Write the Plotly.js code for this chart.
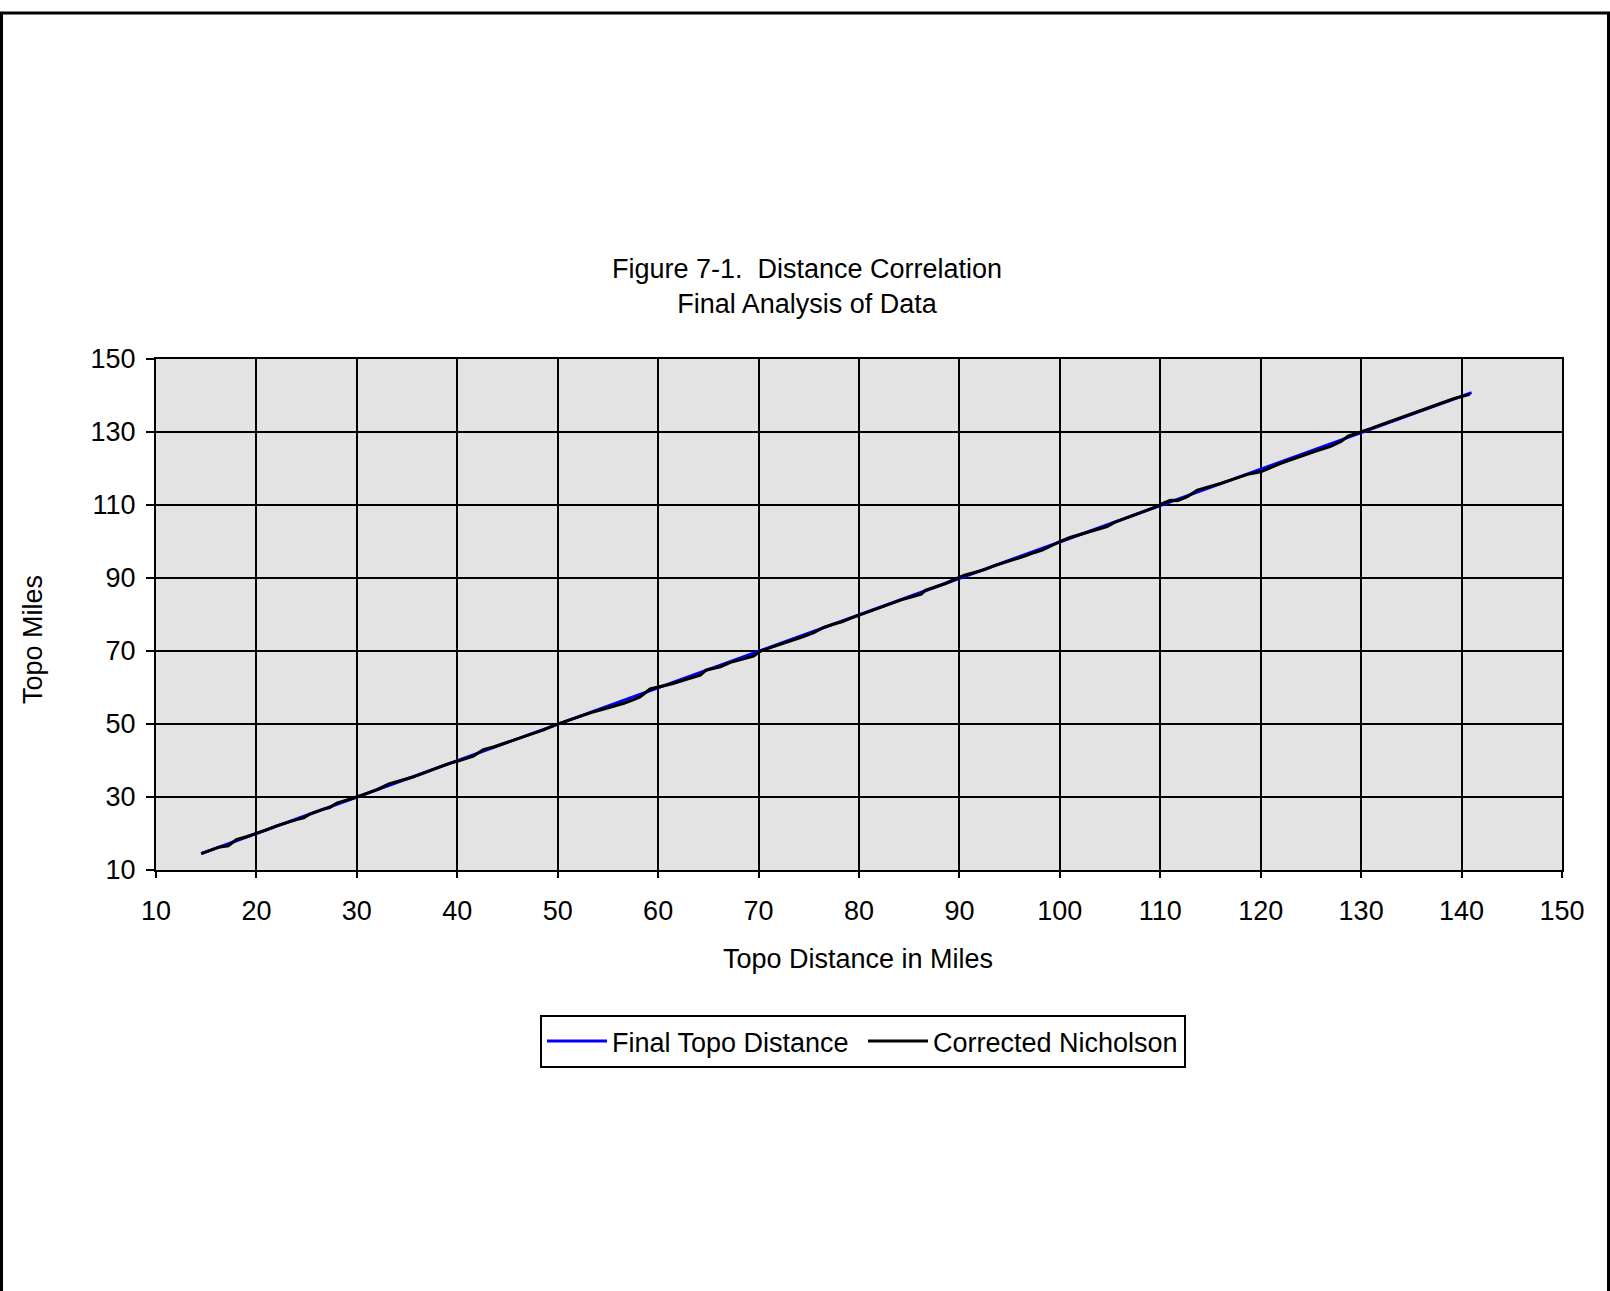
<!DOCTYPE html>
<html>
<head>
<meta charset="utf-8">
<script src="https://cdn.plot.ly/plotly-3.0.1.min.js"></script>
<style>
  html, body { margin: 0; padding: 0; background: #ffffff; }
  #chart { width: 1610px; height: 1291px; }
</style>
</head>
<body>
<div id="chart"></div>
<script>
// ---- data ----
const finalTopoX = [14.5, 30, 50, 70, 90, 110, 130, 141.0];
const finalTopoY = [14.5, 30, 50, 70, 90, 110, 130, 140.8];

const nicholsonX = [
  14.5, 15.5, 16.2, 17.2, 18.0, 19.0, 20.0, 21.0, 22.0, 23.0,
  24.0, 24.7, 25.3, 26.6, 27.3, 28.0, 29.0, 30.0, 31.0, 32.0,
  33.2, 34.6, 35.5, 36.3, 37.2, 38.2, 39.3, 40.0, 41.6, 42.6,
  43.6, 44.6, 45.6, 46.6, 47.6, 48.6, 49.9, 51.2, 52.3, 53.4,
  54.6, 55.6, 56.6, 57.5, 58.2, 59.2, 60.2, 61.5, 62.5, 63.4,
  64.2, 64.8, 66.2, 67.2, 68.4, 69.5, 70.2, 71.2, 72.2, 73.3,
  74.4, 75.5, 76.5, 77.5, 78.3, 79.2, 80.2, 81.2, 82.2, 83.2,
  84.2, 85.2, 86.2, 86.6, 87.6, 88.6, 89.5, 90.5, 91.5, 92.5,
  93.5, 94.5, 95.5, 96.5, 97.5, 98.3, 99.2, 100.0, 101.0, 102.0,
  103.0, 104.0, 104.7, 105.5, 106.5, 107.0, 107.7, 108.7, 109.5, 110.3,
  111.0, 111.7, 112.7, 113.7, 115.0, 116.0, 117.0, 118.0, 118.7, 120.0,
  121.0, 122.0, 123.2, 124.3, 125.5, 126.9, 128.0, 128.7, 130.0, 131.0,
  132.0, 133.0, 134.2, 135.2, 136.2, 137.2, 138.2, 139.2, 140.8
];
const nicholsonY = [
  14.5, 15.6, 16.2, 16.65, 18.3, 19.1, 20.0, 21.0, 22.1, 23.0,
  23.8, 24.3, 25.3, 26.6, 27.1, 28.35, 29.1, 30.0, 31.0, 32.0,
  33.6, 34.6, 35.4, 36.2, 37.2, 38.2, 39.3, 39.8, 41.2, 43.0,
  43.7, 44.6, 45.6, 46.6, 47.5, 48.4, 49.9, 51.2, 52.2, 53.2,
  54.1, 54.8, 55.7, 56.6, 57.4, 59.6, 60.2, 61.1, 62.0, 62.8,
  63.4, 64.8, 65.7, 66.9, 67.7, 68.6, 70.0, 70.9, 71.9, 72.9,
  73.9, 75.0, 76.5, 77.4, 78.0, 79.0, 80.0, 81.1, 82.2, 83.1,
  84.0, 84.8, 85.6, 86.6, 87.5, 88.5, 89.6, 90.8, 91.5, 92.3,
  93.4, 94.2, 95.0, 96.0, 97.0, 97.7, 98.9, 100.0, 101.1, 101.9,
  102.8, 103.6, 104.1, 105.3, 106.3, 106.8, 107.7, 108.6, 109.4, 110.5,
  111.3, 111.2, 112.3, 114.1, 115.0, 115.9, 116.8, 117.7, 118.4, 119.1,
  120.3, 121.4, 122.6, 123.7, 124.8, 126.0, 127.4, 128.9, 130.0, 131.0,
  132.0, 133.0, 134.0, 135.0, 136.0, 137.1, 138.1, 139.1, 140.3
];

const tickVals = [10, 30, 50, 70, 90, 110, 130, 150];
const xTickVals = [10, 20, 30, 40, 50, 60, 70, 80, 90, 100, 110, 120, 130, 140, 150];

const seriesNames = ["Final Topo Distance", "Corrected Nicholson"];
const titleLines = ["Figure 7-1.&nbsp; Distance Correlation", "Final Analysis of Data"];
const xTitle = "Topo Distance in Miles";
const yTitle = "Topo Miles";

// ---- layout geometry (pixels) ----
const W = 1610, H = 1291;
const L = 156, R = 1562, T = 359, B = 870;
const pw = R - L, ph = B - T;
const px = v => (v - L) / pw;
const py = v => (B - v) / ph;

const FONT = "Liberation Sans, Arial, sans-serif";
const FS = 27;

const traces = [
  {
    x: finalTopoX, y: finalTopoY, name: seriesNames[0],
    type: "scatter", mode: "lines",
    line: { color: "#0000ff", width: 3 }
  },
  {
    x: nicholsonX, y: nicholsonY, name: seriesNames[1],
    type: "scatter", mode: "lines",
    line: { color: "#000000", width: 3 }
  }
];

const layout = {
  width: W, height: H,
  margin: { l: L, r: W - R, t: T, b: H - B, pad: 0 },
  paper_bgcolor: "#ffffff",
  plot_bgcolor: "#e3e3e3",
  font: { family: FONT, size: FS, color: "#000000" },
  showlegend: true,
  title: {
    text: titleLines.join("<br>"),
    font: { family: FONT, size: FS, color: "#000000" },
    x: 807 / W, xref: "container", xanchor: "center",
    y: 1 - 278 / H, yref: "container", yanchor: "middle"
  },
  xaxis: {
    range: [10, 150], tickmode: "array", tickvals: xTickVals,
    showgrid: true, gridcolor: "#000000", gridwidth: 2,
    zeroline: false, showline: true, linecolor: "#000000", linewidth: 2, mirror: true,
    ticks: "outside", ticklen: 6, tickwidth: 2, tickcolor: "#000000",
    ticklabelstandoff: 10,
    tickfont: { family: FONT, size: FS, color: "#000000" },
    fixedrange: true
  },
  yaxis: {
    range: [10, 150], tickmode: "array", tickvals: tickVals,
    showgrid: true, gridcolor: "#000000", gridwidth: 2,
    zeroline: false, showline: true, linecolor: "#000000", linewidth: 2, mirror: true,
    ticks: "outside", ticklen: 8, tickwidth: 2, tickcolor: "#000000",
    ticklabelstandoff: 5,
    tickfont: { family: FONT, size: FS, color: "#000000" },
    fixedrange: true
  },
  legend: {
    orientation: "h",
    x: px(863), xanchor: "center",
    y: py(1015), yanchor: "top",
    bgcolor: "#ffffff", bordercolor: "#000000", borderwidth: 2,
    font: { family: FONT, size: FS, color: "#000000" },
    itemwidth: 60, tracegroupgap: 0,
    entrywidth: 246, entrywidthmode: "pixels"
  },
  annotations: [
    {
      text: xTitle, xref: "paper", yref: "paper",
      x: px(858), y: py(959), xanchor: "center", yanchor: "middle",
      showarrow: false, font: { family: FONT, size: FS, color: "#000000" }
    },
    {
      text: yTitle, xref: "paper", yref: "paper",
      x: px(33), y: py(640), xanchor: "center", yanchor: "middle",
      textangle: -90,
      showarrow: false, font: { family: FONT, size: FS, color: "#000000" }
    }
  ],
  shapes: [
    {
      type: "rect", xref: "paper", yref: "paper",
      x0: px(1.5), x1: px(1608.5), y0: py(1310), y1: py(13),
      line: { color: "#000000", width: 3 }, fillcolor: "rgba(0,0,0,0)",
      layer: "above"
    }
  ]
};

Plotly.newPlot("chart", traces, layout, { displayModeBar: false, staticPlot: true });
</script>
</body>
</html>
